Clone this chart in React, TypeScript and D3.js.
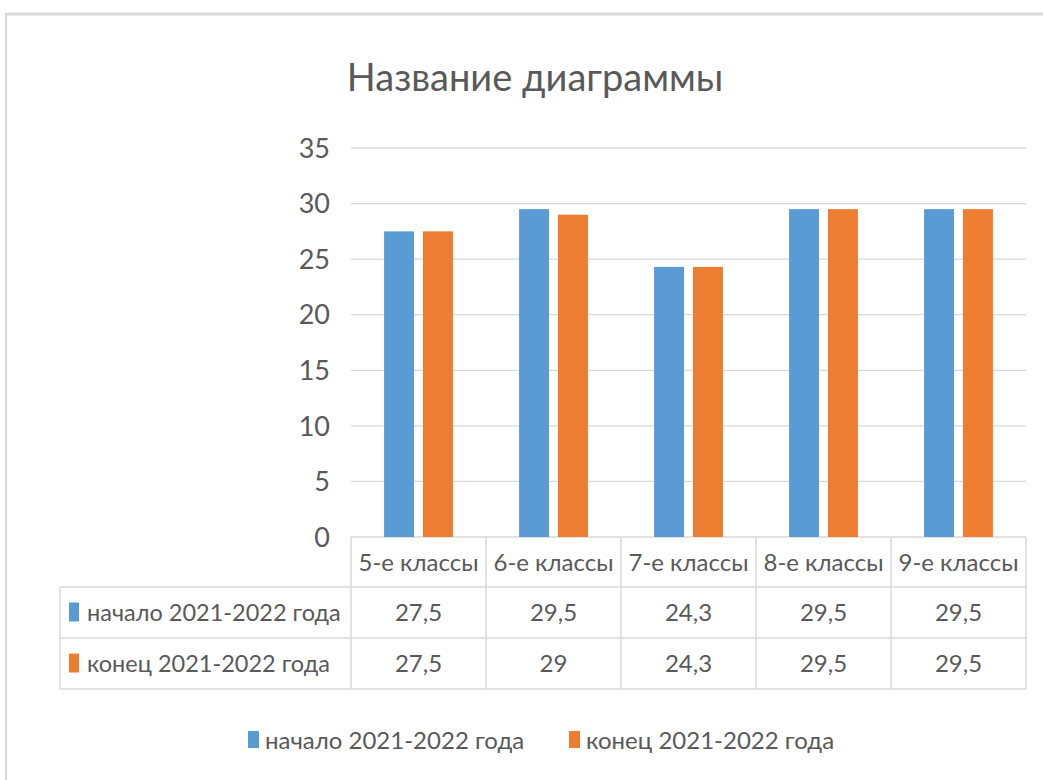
import React from 'react'
import * as d3 from 'd3'

const [WIDTH, HEIGHT] = [1043, 780]
const FONT = 'Lato, "Open Sans", sans-serif'
const TEXT = '#595959'
const GRID = '#D9D9D9'

const title = 'Название диаграммы'
const categories = ['5-е классы', '6-е классы', '7-е классы', '8-е классы', '9-е классы']
const seriesNames = ['начало 2021-2022 года', 'конец 2021-2022 года']
const seriesColors = ['#5B9BD5', '#ED7D31']
const startValues = [27.5, 29.5, 24.3, 29.5, 29.5]
const endValues = [27.5, 29, 24.3, 29.5, 29.5]
const yTicks = [0, 5, 10, 15, 20, 25, 30, 35]

const plot = { left: 351, right: 1026, top: 148, bottom: 537 }
const table = { left: 60, rowH: 51 }

const fmt = (v: number) => String(v).replace('.', ',')

export default function App() {
  const series = [startValues, endValues]

  const x0 = d3.scaleBand<string>()
    .domain(categories)
    .range([plot.left, plot.right])
    .paddingInner(0.49)
    .paddingOuter(0.245)
  const x1 = d3.scaleBand<number>()
    .domain([0, 1])
    .range([0, x0.bandwidth()])
    .paddingInner(0.23)
  const y = d3.scaleLinear().domain([0, 35]).range([plot.bottom, plot.top])

  const step = x0.step()
  const colEdges = categories.map((c, i) => plot.left + i * step).concat([plot.right])
  const rowTop = plot.bottom
  const rowEdges = [rowTop, rowTop + 50, rowTop + 50 + table.rowH, rowTop + 50 + 2 * table.rowH]

  return (
    <svg width={WIDTH} height={HEIGHT} style={{ position: 'absolute', left: 0, top: 0, fontFamily: FONT }}>
      <rect x={0} y={0} width={WIDTH} height={HEIGHT} fill="#fff" />
      {/* frame */}
      <line x1={5} x2={WIDTH} y1={14} y2={14} stroke={GRID} strokeWidth={3} />
      <line x1={6} x2={6} y1={14} y2={HEIGHT} stroke={GRID} strokeWidth={2} />

      <text x={535} y={91} textAnchor="middle" fontSize={38} fill={TEXT}>{title}</text>

      {/* gridlines and y ticks */}
      {yTicks.map(t => (
        <g key={t}>
          <line x1={plot.left} x2={plot.right} y1={y(t)} y2={y(t)} stroke={GRID} strokeWidth={1.3} />
          <text x={330} y={y(t)} dy="0.36em" textAnchor="end" fontSize={27} fill={TEXT}>{t}</text>
        </g>
      ))}

      {/* bars */}
      {series.map((vals, s) => vals.map((v, i) => (
        <rect key={`${s}-${i}`}
          x={(x0(categories[i]) ?? 0) + (x1(s) ?? 0)}
          y={y(v)}
          width={x1.bandwidth()}
          height={y(0) - y(v)}
          fill={seriesColors[s]} />
      )))}

      {/* data table */}
      {colEdges.map((cx, i) => (
        <line key={i} x1={cx} x2={cx} y1={rowEdges[0]} y2={rowEdges[3]} stroke={GRID} strokeWidth={1.5} />
      ))}
      <line x1={table.left} x2={table.left} y1={rowEdges[1]} y2={rowEdges[3]} stroke={GRID} strokeWidth={1.5} />
      {rowEdges.slice(1).map((ry, i) => (
        <line key={i} x1={table.left} x2={plot.right} y1={ry} y2={ry} stroke={GRID} strokeWidth={1.5} />
      ))}
      {categories.map((c, i) => (
        <text key={c} x={(x0(c) ?? 0) + x0.bandwidth() / 2} y={(rowEdges[0] + rowEdges[1]) / 2}
          dy="0.36em" textAnchor="middle" fontSize={24} fill={TEXT}>{c}</text>
      ))}
      {series.map((vals, s) => (
        <g key={s}>
          <rect x={69} y={(rowEdges[s + 1] + rowEdges[s + 2]) / 2 - 10} width={10} height={19} fill={seriesColors[s]} />
          <text x={87} y={(rowEdges[s + 1] + rowEdges[s + 2]) / 2} dy="0.36em" fontSize={23.5} fill={TEXT}>{seriesNames[s]}</text>
          {vals.map((v, i) => (
            <text key={i} x={(x0(categories[i]) ?? 0) + x0.bandwidth() / 2} y={(rowEdges[s + 1] + rowEdges[s + 2]) / 2}
              dy="0.36em" textAnchor="middle" fontSize={24} fill={TEXT}>{fmt(v)}</text>
          ))}
        </g>
      ))}

      {/* legend */}
      {seriesNames.map((n, s) => {
        const lx = s === 0 ? 248 : 569
        return (
          <g key={n}>
            <rect x={lx} y={731} width={11} height={17} fill={seriesColors[s]} />
            <text x={lx + 17} y={740} dy="0.36em" fontSize={24} fill={TEXT}>{n}</text>
          </g>
        )
      })}
    </svg>
  )
}
